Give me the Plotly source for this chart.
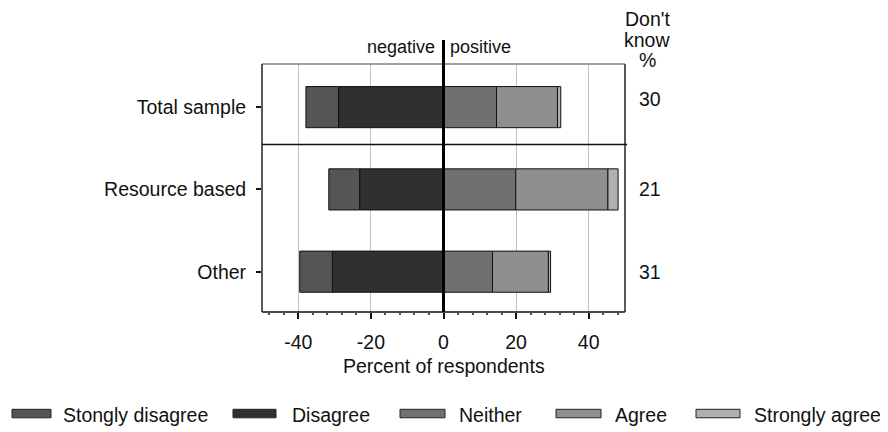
import plotly.graph_objects as go

categories = ["Total sample", "Resource based", "Other"]
strongly_disagree = [9.0, 8.5, 9.0]
disagree = [28.9, 23.1, 30.6]
neither = [14.6, 19.9, 13.5]
agree = [16.8, 25.4, 15.4]
strongly_agree = [0.9, 2.8, 0.6]
dont_know = [30, 21, 31]
x_ticks = [-40, -20, 0, 20, 40]

series_names = ["Stongly disagree", "Disagree", "Neither", "Agree", "Strongly agree"]
colors = ["#555555", "#303030", "#707070", "#8f8f8f", "#b0b0b0"]

FONT = "Liberation Sans, Arial, sans-serif"
FS = 19.5
OFF = 8  # page body margin in the browser
W, H = 888 - OFF, 432 - OFF
# plot-area edges in screen pixels (reference coordinates)
L, R, T, B = 262, 625, 64, 312.5

def px_x(px):
    return (px - L) / (R - L)

def px_y(py):
    return (B - py) / (B - T)

yidx = list(range(len(categories)))
fig = go.Figure()

bar_line = dict(color="#111111", width=1)
fig.add_trace(go.Bar(y=yidx, x=[-v for v in disagree], base=0, orientation="h",
                     marker=dict(color=colors[1], line=bar_line),
                     width=0.5, showlegend=False, name=series_names[1]))
fig.add_trace(go.Bar(y=yidx, x=[-v for v in strongly_disagree],
                     base=[-v for v in disagree], orientation="h",
                     marker=dict(color=colors[0], line=bar_line),
                     width=0.5, showlegend=False, name=series_names[0]))
fig.add_trace(go.Bar(y=yidx, x=neither, base=0, orientation="h",
                     marker=dict(color=colors[2], line=bar_line),
                     width=0.5, showlegend=False, name=series_names[2]))
fig.add_trace(go.Bar(y=yidx, x=agree, base=neither, orientation="h",
                     marker=dict(color=colors[3], line=bar_line),
                     width=0.5, showlegend=False, name=series_names[3]))
fig.add_trace(go.Bar(y=yidx, x=strongly_agree,
                     base=[n + a for n, a in zip(neither, agree)], orientation="h",
                     marker=dict(color=colors[4], line=bar_line),
                     width=0.5, showlegend=False, name=series_names[4]))

shapes = []
shapes.append(dict(type="line", xref="paper", yref="paper", x0=0, x1=1, y0=1, y1=1,
                   line=dict(color="#808080", width=1.5)))
shapes.append(dict(type="line", xref="paper", yref="paper", x0=0, x1=0, y0=0, y1=1,
                   line=dict(color="#222222", width=1.5)))
shapes.append(dict(type="line", xref="paper", yref="paper", x0=1, x1=1, y0=0, y1=1,
                   line=dict(color="#222222", width=1.5)))
shapes.append(dict(type="line", xref="paper", yref="paper", x0=0, x1=1, y0=0, y1=0,
                   line=dict(color="#111111", width=1.5)))
shapes.append(dict(type="line", xref="paper", yref="y", x0=0, x1=1.006, y0=0.455, y1=0.455,
                   line=dict(color="#111111", width=1.5)))
shapes.append(dict(type="line", xref="x", yref="paper", x0=0, x1=0, y0=0, y1=px_y(40),
                   line=dict(color="#000000", width=3)))

annotations = []
annotations.append(dict(x=0, y=px_y(47), xref="x", yref="paper", text="negative",
                        showarrow=False, xanchor="right", yanchor="middle", xshift=-7,
                        font=dict(size=18, color="#111111", family=FONT)))
annotations.append(dict(x=0, y=px_y(47), xref="x", yref="paper", text="positive",
                        showarrow=False, xanchor="left", yanchor="middle", xshift=4,
                        font=dict(size=18, color="#111111", family=FONT)))
for txt, py in [("Don't", 19), ("know", 40), ("%", 59.5)]:
    annotations.append(dict(x=px_x(647), y=px_y(py), xref="paper", yref="paper", text=txt,
                            showarrow=False, xanchor="center", yanchor="middle",
                            font=dict(size=FS, color="#111111", family=FONT)))
for i, v in enumerate(dont_know):
    annotations.append(dict(x=px_x(650), y=i, xref="paper", yref="y", text=str(v),
                            showarrow=False, xanchor="center", yanchor="middle",
                            yshift=8 if i == 0 else 0,
                            font=dict(size=FS, color="#111111", family=FONT)))
annotations.append(dict(x=0, y=px_y(367), xref="x", yref="paper", text="Percent of respondents",
                        showarrow=False, xanchor="center", yanchor="middle",
                        font=dict(size=FS, color="#111111", family=FONT)))

leg_rects = [(12, 51), (233, 276), (400, 445), (556, 601), (696, 740)]
leg_text_x = [61, 290, 457, 613, 752]
for (x0, x1), tx, name, c in zip(leg_rects, leg_text_x, series_names, colors):
    shapes.append(dict(type="rect", xref="paper", yref="paper",
                       x0=px_x(x0), x1=px_x(x1), y0=px_y(418.5), y1=px_y(410),
                       fillcolor=c, line=dict(color="#222222", width=1)))
    annotations.append(dict(x=px_x(tx), y=px_y(415.5), xref="paper", yref="paper", text=name,
                            showarrow=False, xanchor="left", yanchor="middle",
                            font=dict(size=FS, color="#111111", family=FONT)))

fig.update_layout(
    width=W, height=H,
    margin=dict(l=L - OFF, r=888 - R, t=T - OFF, b=432 - B, pad=0),
    barmode="overlay",
    plot_bgcolor="white", paper_bgcolor="white",
    font=dict(family=FONT, size=FS, color="#111111"),
    showlegend=False,
    shapes=shapes,
    annotations=annotations,
    xaxis=dict(range=[-50, 50], tickvals=x_ticks, ticktext=[str(v) for v in x_ticks],
               ticks="outside", ticklen=6, tickwidth=1.5, tickcolor="#111111",
               showgrid=True, gridcolor="#b6c9b6", gridwidth=1,
               zeroline=False, showline=False, ticklabelstandoff=7,
               minor=dict(dtick=4, tick0=0, ticks="outside", ticklen=2, tickcolor="#555555",
                          showgrid=False),
               tickfont=dict(size=FS, family=FONT, color="#111111")),
    yaxis=dict(range=[2.49, -0.524], tickvals=yidx, ticktext=categories,
               ticks="outside", ticklen=5, tickwidth=1.5, tickcolor="#111111",
               showgrid=False, zeroline=False, showline=False,
               ticklabelstandoff=6,
               tickfont=dict(size=FS, family=FONT, color="#111111")),
)

fig.write_html("out.html")
